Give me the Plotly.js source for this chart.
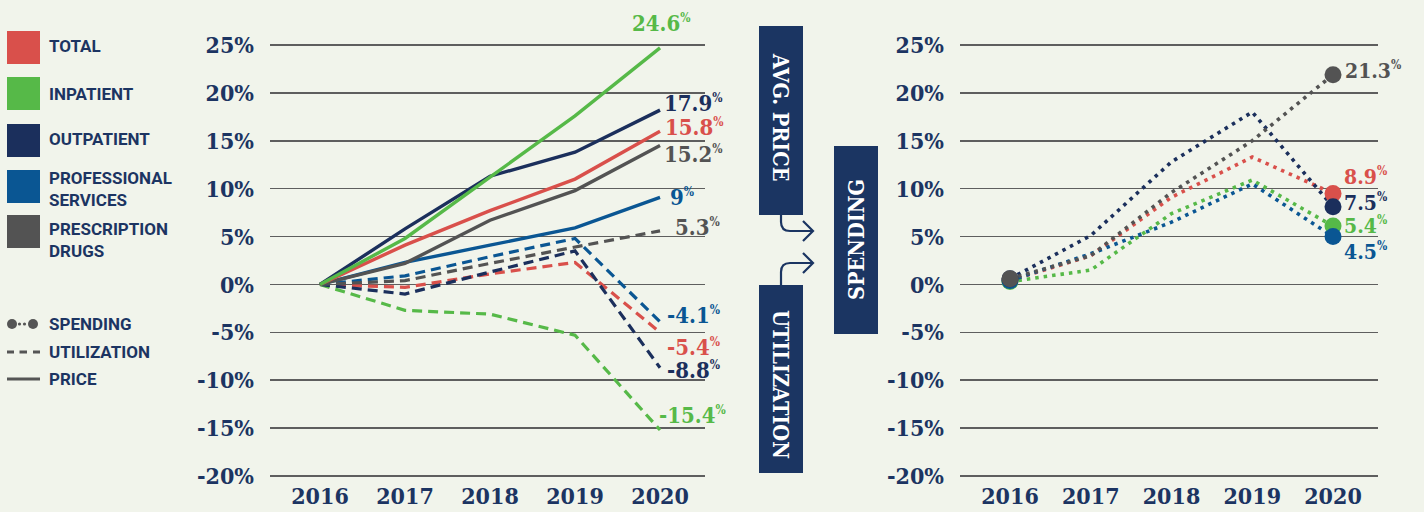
<!DOCTYPE html>
<html>
<head>
<meta charset="utf-8">
<script src="https://cdn.plot.ly/plotly-3.0.1.min.js"></script>
<style>
  html, body { margin: 0; padding: 0; background: #f1f4eb; }
  #chart { width: 1424px; height: 512px; }
</style>
</head>
<body>
<div id="chart"></div>
<script>
// ---------------- DATA ----------------
const years = [2016, 2017, 2018, 2019, 2020];
const yearLabels = ['2016', '2017', '2018', '2019', '2020'];
const yTickVals = [-20, -15, -10, -5, 0, 5, 10, 15, 20, 25];
const yTickText = ['-20%', '-15%', '-10%', '-5%', '0%', '5%', '10%', '15%', '20%', '25%'];

const categories = ['TOTAL', 'INPATIENT', 'OUTPATIENT', 'PROFESSIONAL<br>SERVICES', 'PRESCRIPTION<br>DRUGS'];
const measures = ['SPENDING', 'UTILIZATION', 'PRICE'];

// Price (solid lines, left chart), % change vs 2016
const priceTotal        = [0, 4.1, 7.7, 11.0, 16.0];
const priceInpatient    = [0, 4.8, 11.2, 17.6, 24.7];
const priceOutpatient   = [0, 5.8, 11.3, 13.8, 18.2];
const priceProfessional = [0, 2.3, 4.1, 5.9, 9.1];
const priceRx           = [0, 2.2, 6.7, 9.8, 14.5];
const priceLabels = ['15.8', '24.6', '17.9', '9', '15.2'];

// Utilization (dashed lines, left chart)
const utilTotal        = [0, -0.3, 1.1, 2.3, -5.0];
const utilInpatient    = [0, -2.7, -3.1, -5.3, -15.2];
const utilOutpatient   = [0, -1.0, 1.3, 3.5, -8.7];
const utilProfessional = [0, 0.9, 2.9, 4.8, -3.9];
const utilRx           = [0, 0.4, 2.2, 3.9, 5.6];
const utilLabels = ['-5.4', '-15.4', '-8.8', '-4.1', '5.3'];

// Spending (dotted lines, right chart)
const spendTotal        = [0.4, 3.0, 9.1, 13.3, 9.5];
const spendInpatient    = [0.3, 1.5, 7.4, 10.9, 6.1];
const spendOutpatient   = [0.6, 5.1, 12.8, 18.0, 8.1];
const spendProfessional = [0.4, 3.2, 6.5, 10.5, 5.0];
const spendRx           = [0.6, 3.0, 9.6, 15.0, 21.9];
const spendLabels = ['8.9', '5.4', '7.5', '4.5', '21.3'];

// ---------------- STYLE ----------------
const W = 1424, H = 512;
const colors = ['#d9504b', '#56b948', '#1b2f5c', '#0a5693', '#535353'];
const NAVY = '#1c3462';
const BOX = '#1b3562';
const BG = '#f1f4eb';
const SLAB = '"DejaVu Serif Condensed", "DejaVu Serif", serif';
const SANS = 'Roboto, "Liberation Sans", sans-serif';

const px = (x) => x / W;
const py = (y) => 1 - y / H;

const price = [priceTotal, priceInpatient, priceOutpatient, priceProfessional, priceRx];
const util = [utilTotal, utilInpatient, utilOutpatient, utilProfessional, utilRx];
const spend = [spendTotal, spendInpatient, spendOutpatient, spendProfessional, spendRx];

// label offsets (pixels) for end labels
const priceOff = [[3, 4, 'left'], [1, 25, 'center'], [2, 7, 'left'], [8, 0, 'left'], [2, -8, 'left']];
const utilOff  = [[5, -15, 'left'], [-3, 15, 'left'], [5, -2, 'left'], [5, 7, 'left'], [13, 4, 'left']];
const spendOff = [[9, 17, 'left'], [9, 1, 'left'], [9, 4, 'left'], [9, -15, 'left'], [10, 4, 'left']];

const traces = [];
util.forEach((s, i) => traces.push({
  x: years, y: s, xaxis: 'x', yaxis: 'y', mode: 'lines', hoverinfo: 'skip',
  line: { color: colors[i], width: 3.2, dash: '10px,6px' }
}));
const priceOrder = [3, 4, 0, 2, 1];
priceOrder.forEach(i => traces.push({
  x: years, y: price[i], xaxis: 'x', yaxis: 'y', mode: 'lines', hoverinfo: 'skip',
  line: { color: colors[i], width: 3.4 }
}));
spend.forEach((s, i) => traces.push({
  x: years, y: s, xaxis: 'x2', yaxis: 'y2', mode: 'lines', hoverinfo: 'skip',
  line: { color: colors[i], width: 3.6, dash: '3.5px,5px' }
}));
const markerOrder = [0, 1, 3, 2, 4];
markerOrder.forEach(i => traces.push({
  x: [years[0], years[years.length - 1]], y: [spend[i][0], spend[i][spend[i].length - 1]],
  xaxis: 'x2', yaxis: 'y2', mode: 'markers', hoverinfo: 'skip',
  marker: { color: colors[i], size: 17, line: { width: 0 } }
}));

const annotations = [];
const sup = (t) => t + '<sup><span style="font-size:12px">%</span></sup>';
function endLabel(series, labels, offs, xa, ya, size) {
  series.forEach((s, i) => {
    annotations.push({
      x: years[years.length - 1], y: s[s.length - 1], xref: xa, yref: ya,
      text: sup(labels[i]), showarrow: false,
      xanchor: offs[i][2], yanchor: 'middle', xshift: offs[i][0], yshift: offs[i][1],
      font: { family: SLAB, size: size, color: colors[i], weight: 'bold' }
    });
  });
}
endLabel(price, priceLabels, priceOff, 'x', 'y', 22);
endLabel(util, utilLabels, utilOff, 'x', 'y', 22);
endLabel(spend, spendLabels, spendOff, 'x2', 'y2', 21);

// legend text
const legendY = [46, 94, 139, 189, 240];
categories.forEach((c, i) => annotations.push({
  x: px(47), y: py(legendY[i]), xref: 'paper', yref: 'paper', text: c, showarrow: false,
  xanchor: 'left', yanchor: 'middle', align: 'left',
  font: { family: SANS, size: 17, color: NAVY, weight: 'bold' }
}));
const measY = [324, 352, 379];
measures.forEach((m, i) => annotations.push({
  x: px(47), y: py(measY[i]), xref: 'paper', yref: 'paper', text: m, showarrow: false,
  xanchor: 'left', yanchor: 'middle',
  font: { family: SANS, size: 17, color: NAVY, weight: 'bold' }
}));

// box texts
const boxFont = { family: SLAB, size: 21.5, color: '#ffffff', weight: 'bold' };
annotations.push({ x: px(781), y: py(117), xref: 'paper', yref: 'paper', text: 'AVG. PRICE', textangle: 90,
  xanchor: 'center', yanchor: 'middle', showarrow: false, font: boxFont });
annotations.push({ x: px(781), y: py(384), xref: 'paper', yref: 'paper', text: 'UTILIZATION', textangle: 90,
  xanchor: 'center', yanchor: 'middle', showarrow: false, font: boxFont });
annotations.push({ x: px(856), y: py(240), xref: 'paper', yref: 'paper', text: 'SPENDING', textangle: -90,
  xanchor: 'center', yanchor: 'middle', showarrow: false, font: boxFont });

const shapes = [];
const swTop = [31, 77, 124, 170, 215];
swTop.forEach((t, i) => shapes.push({
  type: 'rect', xref: 'paper', yref: 'paper', x0: px(7), x1: px(40), y0: py(t), y1: py(t + 33),
  fillcolor: colors[i], line: { width: 0 }
}));
const G = '#555555';
[[12, 5], [33, 5], [19.5, 1.6], [24.5, 1.6]].forEach(([cx, r]) => shapes.push({
  type: 'circle', xref: 'paper', yref: 'paper', x0: px(cx - r), x1: px(cx + r), y0: py(324 - r), y1: py(324 + r),
  fillcolor: G, line: { width: 0 }
}));
[[7, 14], [19.5, 27], [33, 40]].forEach(([a, b]) => shapes.push({
  type: 'line', xref: 'paper', yref: 'paper', x0: px(a), x1: px(b), y0: py(352), y1: py(352),
  line: { color: G, width: 3 }
}));
shapes.push({ type: 'line', xref: 'paper', yref: 'paper', x0: px(7), x1: px(40), y0: py(379), y1: py(379),
  line: { color: G, width: 3 } });

[[759, 26, 803, 215], [759, 285, 803, 473], [834, 146, 878, 334]].forEach(([x0, y0, x1, y1]) => shapes.push({
  type: 'rect', xref: 'paper', yref: 'paper', x0: px(x0), x1: px(x1), y0: py(y0), y1: py(y1),
  fillcolor: BOX, line: { width: 0 }
}));
const P = (x, y) => px(x).toFixed(5) + ',' + py(y).toFixed(5);
const arrowPaths = [
  'M' + P(781, 214) + ' L' + P(781, 222) + ' Q' + P(781, 231) + ' ' + P(790, 231) + ' L' + P(813, 231),
  'M' + P(803, 221) + ' L' + P(813, 231) + ' L' + P(803, 241),
  'M' + P(781, 286) + ' L' + P(781, 272) + ' Q' + P(781, 263) + ' ' + P(790, 263) + ' L' + P(813, 263),
  'M' + P(803, 253) + ' L' + P(813, 263) + ' L' + P(803, 273)
];
arrowPaths.forEach(p => shapes.push({ type: 'path', xref: 'paper', yref: 'paper', path: p,
  fillcolor: 'rgba(0,0,0,0)', line: { color: BOX, width: 2.2 } }));

const yTop = 42.1, yBot = 478.9;
const yDomain = [1 - yBot / H, 1 - yTop / H];
const yAxisCommon = {
  range: [-20.3, 25.3], tickvals: yTickVals, ticktext: yTickText,
  showgrid: true, gridcolor: '#5e5e5e', gridwidth: 1.6, zeroline: false, showline: false,
  ticks: '', ticklabelstandoff: 15, fixedrange: true,
  tickfont: { family: SLAB, size: 23, color: NAVY, weight: 'bold' }, domain: yDomain
};
const xAxisCommon = {
  tickvals: years, ticktext: yearLabels, showgrid: false, zeroline: false, showline: false,
  ticks: '', ticklabelstandoff: 1, fixedrange: true,
  tickfont: { family: SLAB, size: 23, color: NAVY, weight: 'bold' }
};

const layout = {
  width: W, height: H,
  margin: { l: 0, r: 0, t: 0, b: 0 },
  paper_bgcolor: BG, plot_bgcolor: BG,
  showlegend: false,
  xaxis: Object.assign({}, xAxisCommon, { domain: [px(270), px(705)], range: [2015.412, 2020.529], anchor: 'y' }),
  yaxis: Object.assign({}, yAxisCommon, { anchor: 'x' }),
  xaxis2: Object.assign({}, xAxisCommon, { domain: [px(960), px(1378)], range: [2015.381, 2020.557], anchor: 'y2' }),
  yaxis2: Object.assign({}, yAxisCommon, { anchor: 'x2' }),
  annotations: annotations,
  shapes: shapes
};

Plotly.newPlot('chart', traces, layout, { displayModeBar: false, staticPlot: true });
</script>
</body>
</html>
